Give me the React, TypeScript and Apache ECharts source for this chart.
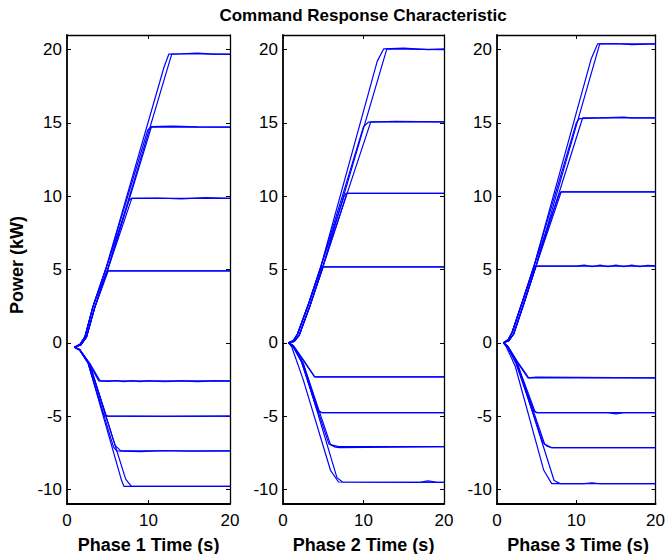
import { useEffect, useRef } from "react";
import * as echarts from "echarts";

type Pt = [number, number];

// Axis layout values
const xTicks = [0, 10, 20];
const yTicks = [-10, -5, 0, 5, 10, 15, 20];
const xMin = 0;
const xMax = 20;
const yMin = -11;
const yMax = 21;

const chartTitle = "Command Response Characteristic";
const yAxisTitle = "Power (kW)";
const phaseTitles = ["Phase 1 Time (s)", "Phase 2 Time (s)", "Phase 3 Time (s)"];

// Recorded step responses, [time (s), power (kW)]
const phase1Runs: Pt[][] = [
  [[0.9, -0.3], [1.6, -0.1], [2.2, 0.4], [3.2, 2.5], [4.8, 5.1], [11.9, 18.8], [12.5, 19.7], [14, 19.72], [16, 19.76], [18, 19.7], [20, 19.7]],
  [[0.9, -0.3], [1.7, -0.15], [2.4, 0.4], [3.4, 2.4], [5.0, 5.0], [12.85, 19.7], [15, 19.72], [20, 19.68]],
  [[0.9, -0.3], [1.6, -0.1], [2.2, 0.4], [3.2, 2.5], [4.8, 5.1], [9.9, 14.5], [10.3, 14.75], [13, 14.78], [16, 14.73], [20, 14.72]],
  [[0.9, -0.3], [1.7, -0.15], [2.4, 0.4], [3.4, 2.4], [5.0, 5.0], [10.35, 14.72], [20, 14.72]],
  [[0.9, -0.3], [1.6, -0.1], [2.2, 0.4], [3.2, 2.5], [4.8, 5.1], [7.6, 9.7], [7.9, 9.85], [11, 9.88], [14, 9.82], [17, 9.9], [20, 9.85]],
  [[0.9, -0.3], [1.7, -0.15], [2.4, 0.4], [3.4, 2.4], [5.0, 5.0], [7.95, 9.85], [20, 9.85]],
  [[0.9, -0.3], [1.6, -0.1], [2.2, 0.4], [3.2, 2.5], [4.9, 4.9], [20, 4.9]],
  [[0.9, -0.3], [1.7, -0.15], [2.4, 0.4], [3.4, 2.4], [5.05, 4.9], [20, 4.9]],
  [[0.9, -0.3], [1.5, -0.45], [2.6, -1.3], [3.9, -2.6], [5, -2.63], [6, -2.58], [7, -2.66], [8, -2.6], [9, -2.66], [10, -2.6], [12, -2.66], [14, -2.6], [16, -2.65], [18, -2.6], [20, -2.62]],
  [[0.9, -0.3], [1.6, -0.5], [2.8, -1.4], [4.05, -2.6], [20, -2.6]],
  [[0.9, -0.3], [1.5, -0.45], [2.6, -1.4], [4.5, -4.9], [4.8, -5.0], [20, -5.0]],
  [[0.9, -0.3], [1.6, -0.5], [2.8, -1.5], [4.8, -4.95], [5.0, -5.0], [12, -5.03], [20, -5.0]],
  [[0.9, -0.3], [1.5, -0.45], [2.6, -1.4], [5.7, -7.1], [6.1, -7.38], [9, -7.42], [12, -7.35], [15, -7.4], [20, -7.38]],
  [[0.9, -0.3], [1.6, -0.5], [2.8, -1.5], [5.9, -7.0], [6.6, -7.38], [20, -7.38]],
  [[0.9, -0.3], [1.5, -0.45], [2.6, -1.4], [6.7, -9.4], [7.0, -9.8], [20, -9.8]],
  [[0.9, -0.3], [1.6, -0.5], [2.8, -1.5], [7.2, -9.3], [7.9, -9.8], [20, -9.8]],
];

const phase2Runs: Pt[][] = [
  [[0.7, 0], [1.3, 0.15], [1.8, 0.6], [3.2, 2.7], [4.7, 5.2], [11.7, 19.2], [12.5, 20.05], [15, 20.1], [18, 20.0], [20, 20.05]],
  [[0.7, 0], [1.4, 0.1], [2.0, 0.5], [3.4, 2.6], [4.9, 5.1], [12.9, 20.05], [20, 20.0]],
  [[0.7, 0], [1.3, 0.15], [1.8, 0.6], [3.2, 2.7], [4.7, 5.2], [10.0, 14.75], [10.6, 15.05], [14, 15.1], [20, 15.07]],
  [[0.7, 0], [1.4, 0.1], [2.0, 0.5], [3.4, 2.6], [4.9, 5.1], [10.9, 15.07], [20, 15.07]],
  [[0.7, 0], [1.3, 0.15], [1.8, 0.6], [3.2, 2.7], [4.7, 5.2], [7.6, 10.0], [7.85, 10.2], [20, 10.2]],
  [[0.7, 0], [1.4, 0.1], [2.0, 0.5], [3.4, 2.6], [4.9, 5.1], [7.95, 10.2], [20, 10.2]],
  [[0.7, 0], [1.3, 0.15], [1.8, 0.6], [3.2, 2.7], [4.8, 5.18], [20, 5.18]],
  [[0.7, 0], [1.4, 0.1], [2.0, 0.5], [3.4, 2.6], [5.0, 5.18], [20, 5.18]],
  [[0.7, 0], [1.2, -0.15], [2.4, -1.1], [3.9, -2.32], [20, -2.32]],
  [[0.7, 0], [1.3, -0.2], [2.5, -1.15], [3.95, -2.32], [20, -2.32]],
  [[0.7, 0], [1.2, -0.2], [2.3, -1.3], [4.2, -4.55], [4.8, -4.77], [20, -4.77]],
  [[0.7, 0], [1.3, -0.25], [2.5, -1.4], [4.4, -4.65], [4.9, -4.77], [20, -4.77]],
  [[0.7, 0], [1.2, -0.2], [2.3, -1.3], [5.7, -6.9], [6.5, -7.12], [7, -7.15], [20, -7.09]],
  [[0.7, 0], [1.3, -0.25], [2.5, -1.4], [5.9, -6.95], [6.9, -7.09], [20, -7.09]],
  [[0.7, 0], [1.1, -0.3], [2.5, -2.5], [5.9, -8.7], [6.9, -9.5], [20, -9.52]],
  [[0.7, 0], [1.3, -0.3], [2.5, -1.45], [6.7, -9.2], [7.4, -9.5], [17, -9.52], [18, -9.42], [19, -9.5], [20, -9.52]],
];

const phase3Runs: Pt[][] = [
  [[0.8, 0], [1.4, 0.2], [1.9, 0.7], [3.2, 2.8], [4.7, 5.3], [11.9, 19.4], [12.7, 20.4], [15, 20.42], [17, 20.35], [20, 20.4]],
  [[0.8, 0], [1.5, 0.15], [2.1, 0.6], [3.4, 2.7], [4.9, 5.2], [12.96, 20.4], [20, 20.4]],
  [[0.8, 0], [1.4, 0.2], [1.9, 0.7], [3.2, 2.8], [4.7, 5.3], [10.0, 15.0], [10.4, 15.3], [13, 15.34], [16, 15.4], [17, 15.34], [20, 15.34]],
  [[0.8, 0], [1.5, 0.15], [2.1, 0.6], [3.4, 2.7], [4.9, 5.2], [10.8, 15.34], [20, 15.34]],
  [[0.8, 0], [1.4, 0.2], [1.9, 0.7], [3.2, 2.8], [4.7, 5.3], [7.8, 10.05], [8.07, 10.3], [20, 10.3]],
  [[0.8, 0], [1.5, 0.15], [2.1, 0.6], [3.4, 2.7], [4.9, 5.2], [8.1, 10.3], [20, 10.3]],
  [[0.8, 0], [1.4, 0.2], [1.9, 0.7], [3.2, 2.8], [4.8, 5.23], [10, 5.23], [11, 5.3], [12, 5.2], [13, 5.3], [14, 5.2], [15, 5.3], [16, 5.2], [17, 5.3], [18, 5.2], [19, 5.28], [20, 5.25]],
  [[0.8, 0], [1.5, 0.15], [2.1, 0.6], [3.4, 2.7], [4.9, 5.23], [20, 5.23]],
  [[0.8, 0], [1.3, -0.2], [2.4, -1.2], [3.9, -2.39], [5, -2.35], [20, -2.39]],
  [[0.8, 0], [1.4, -0.25], [2.6, -1.3], [4.0, -2.39], [20, -2.39]],
  [[0.8, 0], [1.3, -0.25], [2.4, -1.4], [4.6, -4.6], [5.0, -4.77], [14, -4.77], [15, -4.85], [16, -4.77], [20, -4.77]],
  [[0.8, 0], [1.4, -0.3], [2.6, -1.5], [4.8, -4.7], [5.1, -4.77], [20, -4.77]],
  [[0.8, 0], [1.3, -0.25], [2.4, -1.4], [5.8, -6.8], [6.3, -7.05], [6.9, -7.16], [20, -7.16]],
  [[0.8, 0], [1.4, -0.3], [2.6, -1.5], [6.0, -6.9], [6.9, -7.16], [20, -7.16]],
  [[0.8, 0], [1.2, -0.3], [2.3, -1.6], [5.9, -8.7], [6.9, -9.61], [20, -9.61]],
  [[0.8, 0], [1.4, -0.3], [2.6, -1.5], [7.2, -9.4], [7.95, -9.61], [11, -9.61], [12, -9.55], [13, -9.62], [20, -9.61]],
];

const allPhases = [phase1Runs, phase2Runs, phase3Runs];

const FONT = "Liberation Sans, Arial, sans-serif";
const panelLefts = [67, 283, 497];
const panelWidths = [163, 161, 162];
const panelTop = 35;
const panelHeight = 469;

function buildOption(): echarts.EChartsOption {
  const grid: any[] = [];
  const xAxis: any[] = [];
  const yAxis: any[] = [];
  const series: any[] = [];
  const graphic: any[] = [];

  allPhases.forEach((runs, i) => {
    grid.push({
      left: panelLefts[i],
      top: panelTop,
      width: panelWidths[i],
      height: panelHeight,
      show: false,
    });
    const common = {
      gridIndex: i,
      type: "value",
      splitLine: { show: false },
      axisLine: { show: true, onZero: false, lineStyle: { color: "#000", width: 1.8 } },
      axisTick: { show: true, inside: true, length: 4, lineStyle: { color: "#000", width: 1 } },
    };
    xAxis.push({
      ...common,
      position: "bottom",
      min: xMin,
      max: xMax,
      interval: 10,
      axisLabel: { color: "#000", fontSize: 17, fontFamily: FONT, margin: 8, customValues: xTicks },
      axisTick: { ...common.axisTick, customValues: xTicks },
    });
    xAxis.push({
      ...common,
      position: "top",
      min: xMin,
      max: xMax,
      interval: 10,
      axisLine: { show: true, onZero: false, lineStyle: { color: "#000", width: 1.3 } },
      axisLabel: { show: false },
      axisTick: { ...common.axisTick, customValues: xTicks },
    });
    yAxis.push({
      ...common,
      position: "left",
      min: yMin,
      max: yMax,
      axisLabel: { color: "#000", fontSize: 17, fontFamily: FONT, margin: 5, customValues: yTicks },
      axisTick: { ...common.axisTick, customValues: yTicks },
    });
    yAxis.push({
      ...common,
      position: "right",
      min: yMin,
      max: yMax,
      axisLine: { show: true, onZero: false, lineStyle: { color: "#000", width: 1.3 } },
      axisLabel: { show: false },
      axisTick: { ...common.axisTick, customValues: yTicks },
    });

    runs.forEach((run) => {
      series.push({
        type: "line",
        xAxisIndex: i * 2,
        yAxisIndex: i * 2,
        data: run,
        showSymbol: false,
        symbol: "none",
        lineStyle: { color: "#0000ff", width: 1.2 },
        silent: true,
        z: 1,
      });
    });

    graphic.push({
      type: "text",
      x: panelLefts[i] + panelWidths[i] / 2,
      y: 545,
      style: {
        text: phaseTitles[i],
        fontFamily: FONT,
        fontSize: 18,
        fontWeight: "bold",
        fill: "#000",
        textAlign: "center",
        textVerticalAlign: "middle",
      },
    });
  });

  graphic.push({
    type: "text",
    x: 363,
    y: 15,
    style: {
      text: chartTitle,
      fontFamily: FONT,
      fontSize: 17,
      fontWeight: "bold",
      fill: "#000",
      textAlign: "center",
      textVerticalAlign: "middle",
    },
  });
  graphic.push({
    type: "text",
    x: 17,
    y: 265,
    rotation: Math.PI / 2,
    style: {
      text: yAxisTitle,
      fontFamily: FONT,
      fontSize: 18,
      fontWeight: "bold",
      fill: "#000",
      textAlign: "center",
      textVerticalAlign: "middle",
    },
  });

  return {
    animation: false,
    backgroundColor: "#fff",
    grid,
    xAxis,
    yAxis,
    series,
    graphic,
  };
}

export default function App() {
  const ref = useRef<HTMLDivElement>(null);

  useEffect(() => {
    if (!ref.current) return;
    const chart = echarts.init(ref.current, undefined, { renderer: "svg" });
    chart.setOption(buildOption());
    return () => chart.dispose();
  }, []);

  return (
    <div
      ref={ref}
      style={{ position: "absolute", left: 0, top: 0, width: 668, height: 554, background: "#fff" }}
    />
  );
}
